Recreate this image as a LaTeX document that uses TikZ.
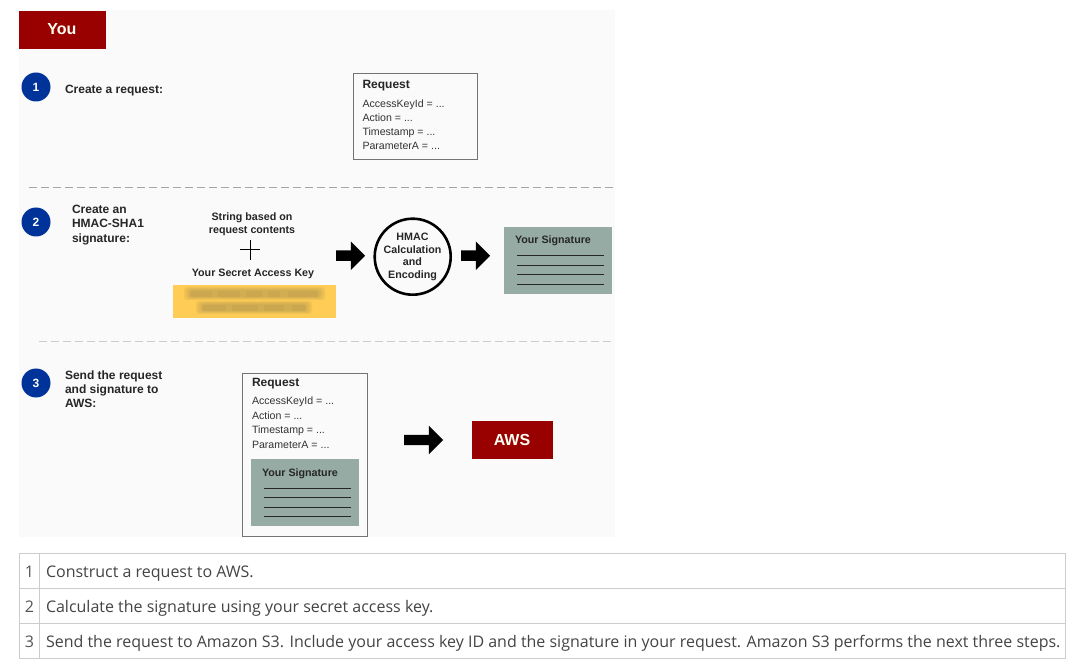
\documentclass[tikz,border=0pt]{standalone}
\usepackage{fontspec}
\setmainfont{Liberation Sans}
\newfontfamily\tablefont{Open Sans}
\usetikzlibrary{shapes.arrows}
\definecolor{awsred}{HTML}{990000}
\definecolor{stepblue}{HTML}{003399}
\definecolor{panelbg}{HTML}{FAFAFA}
\definecolor{siggreen}{HTML}{95ABA3}
\definecolor{keyyellow}{HTML}{FFCC55}
\definecolor{smudge}{HTML}{A08A50}
\definecolor{tabline}{HTML}{CCCCCC}
\definecolor{tabtext}{HTML}{444444}
\definecolor{tabnum}{HTML}{555555}
\tikzset{
  x=1pt,y=-1pt,
  every node/.style={inner sep=0pt,outer sep=0pt,font=\fontsize{11}{13}\selectfont},
  steplabel/.style={anchor=base west,font=\fontsize{12}{14}\selectfont\bfseries,text=black!85},
  label/.style={anchor=base west,font=\fontsize{10.7}{13}\selectfont\bfseries,text=black!85},
  ctrlabel/.style={anchor=base,font=\fontsize{10.7}{13}\selectfont\bfseries,text=black!85},
  field/.style={anchor=base west,font=\fontsize{10.6}{13}\selectfont,text=black!80},
  stepdot/.style={circle,fill=stepblue,minimum size=29pt,text=white,font=\fontsize{12}{14}\selectfont\bfseries},
  redbox/.style={rectangle,fill=awsred},
  redtext/.style={anchor=base,font=\fontsize{16}{18}\selectfont\bfseries,text=white!95!yellow},
  reqbox/.style={draw=black!55,line width=0.9pt,fill=panelbg},
  sigbox/.style={fill=siggreen},
  sigline/.style={draw=black!85,line width=0.9pt},
  blockarrow/.style={single arrow,fill=black,single arrow tip angle=90,single arrow head indent=0pt,
    minimum width=28pt,single arrow head extend=9pt,inner xsep=0pt,inner ysep=5pt},
  divider/.style={line width=1pt,dash pattern=on 8pt off 4pt},
  tabrule/.style={draw=tabline,line width=1pt},
  tabcell/.style={anchor=base west,font=\fontsize{16}{20}\selectfont\tablefont,text=tabtext},
  tabno/.style={anchor=base,font=\fontsize{16}{20}\selectfont\tablefont,text=tabnum},
  blur/.style={fill=smudge,fill opacity=0.14,rounded corners=3pt},
}
\begin{document}
\begin{tikzpicture}
\useasboundingbox (0,0) rectangle (1074,668);
\fill[white] (0,0) rectangle (1074,668);
\fill[panelbg] (19,10) rectangle (615,537);
% header
\node[redbox,minimum width=87pt,minimum height=38pt] (you) at (62.5,30) {};
\node[redtext] (youtext) at (62,35) {You};
% dividers
\coordinate (d1a) at (29,188); \coordinate (d1b) at (615,188);
\coordinate (d2a) at (39,342); \coordinate (d2b) at (612,342);
\draw[divider,draw=black!35] (d1a) -- (d1b);
\draw[divider,draw=black!20] (d2a) -- (d2b);
% step 1
\node[stepdot] (s1) at (36,87) {1};
\node[steplabel] (s1t) at (65,93.3) {Create a request:};
\draw[reqbox] (353,73) rectangle (477.5,159.5);
\node[anchor=base west,font=\fontsize{12}{14}\selectfont\bfseries,text=black!85] (r1) at (362.5,89) {Request};
\node[field] (r1a) at (362.5,108) {AccessKeyId = ...};
\node[field] (r1b) at (362.5,122) {Action = ...};
\node[field] (r1c) at (362.5,136) {Timestamp = ...};
\node[field] (r1d) at (362.5,150) {ParameterA = ...};
% step 2
\node[stepdot] (s2) at (36,222) {2};
\node[steplabel] (s2a) at (72,213.3) {Create an};
\node[steplabel] (s2b) at (72,227.3) {HMAC-SHA1};
\node[steplabel] (s2c) at (72,242.3) {signature:};
\node[ctrlabel] (st1) at (252,221) {String based on};
\node[ctrlabel] (st2) at (252,234) {request contents};
\coordinate (pl) at (240,250); \coordinate (pr) at (260,250);
\coordinate (pt) at (250,240); \coordinate (pb) at (250,260);
\draw[line width=1pt,black] (pl) -- (pr) (pt) -- (pb);
\node[ctrlabel] (key) at (253,277) {Your Secret Access Key};
\fill[keyyellow] (173,285) rectangle (336,318);
\foreach \i in {0,1,2,3}{
  \fill[blur] (184+\i*2,287+\i) rectangle (325-\i*2,300-\i);
  \fill[blur] (196+\i*2,301+\i) rectangle (312-\i*2,314-\i);
}
\foreach \a/\b in {190/212,218/240,246/262,268/280,288/318}{
  \fill[smudge,opacity=0.12] (\a,291) rectangle (\b,297);
}
\foreach \a/\b in {202/226,232/258,264/284,292/306}{
  \fill[smudge,opacity=0.12] (\a,305) rectangle (\b,311);
}
\node[blockarrow,minimum height=29pt] (a1) at (348,255.7) {};
\node[circle,draw=black,line width=2.6pt,minimum size=76pt] (hmac) at (412.7,256.7) {};
\node[ctrlabel] (h1) at (412.5,241) {HMAC};
\node[ctrlabel] (h2) at (412.5,254) {Calculation};
\node[ctrlabel] (h3) at (412.5,266) {and};
\node[ctrlabel] (h4) at (412.5,279) {Encoding};
\node[blockarrow,minimum height=29pt] (a2) at (473,255.7) {};
\fill[sigbox] (504,227) rectangle (612,294);
\node[label] (sg1) at (515,244) {Your Signature};
\foreach \y in {255,265,274,284}{\draw[sigline] (517,\y) -- (604,\y);}
% step 3
\node[stepdot] (s3) at (36,383) {3};
\node[steplabel] (s3a) at (65,379.3) {Send the request};
\node[steplabel] (s3b) at (65,393.3) {and signature to};
\node[steplabel] (s3c) at (65,407.3) {AWS:};
\draw[reqbox] (242.5,373) rectangle (367.5,536);
\node[anchor=base west,font=\fontsize{12}{14}\selectfont\bfseries,text=black!85] (r3) at (252,386) {Request};
\node[field] (r3a) at (252,404.5) {AccessKeyId = ...};
\node[field] (r3b) at (252,419) {Action = ...};
\node[field] (r3c) at (252,433.5) {Timestamp = ...};
\node[field] (r3d) at (252,448) {ParameterA = ...};
\fill[sigbox] (251,459) rectangle (359,526);
\node[label] (sg3) at (262,476) {Your Signature};
\foreach \y in {488,497,507,516}{\draw[sigline] (264,\y) -- (351,\y);}
\node[blockarrow,minimum height=39pt] (a3) at (421,440) {};
\node[redbox,minimum width=81pt,minimum height=38pt] (aws) at (512.5,440) {};
\node[redtext] (awst) at (512,445) {AWS};
% table
\draw[tabrule] (19.5,553.5) rectangle (1065.5,658.5);
\coordinate (t1a) at (19.5,588.5); \coordinate (t1b) at (1065.5,588.5);
\coordinate (t2a) at (19.5,623.5); \coordinate (t2b) at (1065.5,623.5);
\coordinate (tva) at (39.5,553.5); \coordinate (tvb) at (39.5,658.5);
\draw[tabrule] (t1a) -- (t1b) (t2a) -- (t2b) (tva) -- (tvb);
\node[tabno] (n1) at (29.5,577) {1};
\node[tabno] (n2) at (29.5,612) {2};
\node[tabno] (n3) at (29.5,647) {3};
\node[tabcell] (c1) at (46,577) {Construct a request to AWS.};
\node[tabcell] (c2) at (46,612) {Calculate the signature using your secret access key.};
\node[tabcell] (c3) at (46,647) {Send the request to Amazon S3. Include your access key ID and the signature in your request. Amazon S3 performs the next three steps.};
\end{tikzpicture}
\end{document}
